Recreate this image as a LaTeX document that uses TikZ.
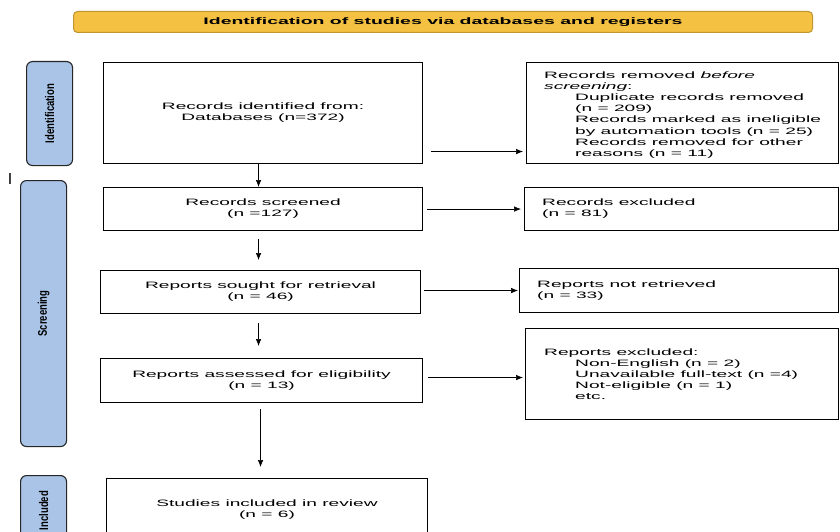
\documentclass[tikz,border=0pt]{standalone}
\usepackage{fontspec}
\setmainfont{Liberation Sans}[FakeStretch=2.07]
\newfontfamily\sidefont{Liberation Sans}[FakeStretch=0.76]
\newfontfamily\plainfont{Liberation Sans}
\usetikzlibrary{arrows.meta}
\definecolor{hdrfill}{HTML}{F4C142}
\definecolor{hdrborder}{HTML}{BF9530}
\definecolor{sidefill}{HTML}{A9C4E6}
\definecolor{sideborder}{HTML}{262626}
\newcommand\mainsz{\fontsize{9.25}{11.1}\selectfont}
\tikzset{
  box/.style={draw=black, line width=1.1pt, inner sep=0pt, anchor=north west, align=center, font=\mainsz},
  sidebox/.style={draw=sideborder, fill=sidefill, line width=1.1pt, rounded corners=6pt, anchor=north west, inner sep=0pt},
  sidelabel/.style={rotate=90, font=\sidefont\bfseries\fontsize{12.5}{14}\selectfont, inner sep=0pt},
  lefttxt/.style={anchor=west, align=left, font=\mainsz, inner sep=0pt},
  arr/.style={-{Latex[length=7pt,width=5.5pt]}, line width=0.6pt, draw=black},
}
\begin{document}
\begin{tikzpicture}[x=1pt,y=-1pt]
\useasboundingbox (0,0) rectangle (840,532);
\clip (0,0) rectangle (840,532);
\fill[white] (0,0) rectangle (840,532);

% header
\node[draw=hdrborder, fill=hdrfill, line width=1pt, rounded corners=4pt, anchor=north west, inner sep=0pt,
      minimum width=739, minimum height=21, font=\bfseries\fontsize{9.4}{11}\selectfont] (header) at (73,11)
  {Identification of studies via databases and registers};

% side boxes
\node[sidebox, minimum width=46, minimum height=104] (sideid) at (26,61) {};
\node[sidelabel] (sideidlbl) at (sideid.center) {Identification};
\node[sidebox, minimum width=46, minimum height=266] (sidescr) at (20,180) {};
\node[sidelabel] (sidescrlbl) at (sidescr.center) {Screening};
\node[sidebox, minimum width=46, minimum height=70] (sideinc) at (20,475) {};
\node[sidelabel] (sideinclbl) at (sideinc.center) {Included};
\node[font=\plainfont\fontsize{16}{16}\selectfont, inner sep=0pt] (cursor) at (10,179) {I};

% main column
\node[box, minimum width=319, minimum height=101] (identified) at (103,62)
  {Records identified from:\\Databases (n=372)};
\node[box, minimum width=319, minimum height=43] (screened) at (103,187)
  {Records screened\\(n =127)};
\node[box, minimum width=320, minimum height=43] (sought) at (100,270)
  {Reports sought for retrieval\\(n = 46)};
\node[box, minimum width=322, minimum height=44] (assessed) at (100,358)
  {Reports assessed for eligibility\\(n = 13)};
\node[box, minimum width=321, minimum height=62] (included) at (106,478)
  {Studies included in review\\(n = 6)};

% right column
\node[box, minimum width=312, minimum height=101] (removed) at (526,62) {};
\node[lefttxt] (removedtxt) at ([xshift=18pt,yshift=-2pt]removed.west)
  {Records removed \textit{before}\\
   \textit{screening}:\\
   \hspace*{31pt}Duplicate records removed\\
   \hspace*{31pt}(n = 209)\\
   \hspace*{31pt}Records marked as ineligible\\
   \hspace*{31pt}by automation tools (n = 25)\\
   \hspace*{31pt}Records removed for other\\
   \hspace*{31pt}reasons (n = 11)};
\node[box, minimum width=314, minimum height=43] (excluded) at (524,187) {};
\node[lefttxt] (excludedtxt) at ([xshift=18pt]excluded.west) {Records excluded\\(n = 81)};
\node[box, minimum width=319, minimum height=44] (notret) at (519,268) {};
\node[lefttxt] (notrettxt) at ([xshift=18pt]notret.west) {Reports not retrieved\\(n = 33)};
\node[box, minimum width=313, minimum height=91] (excl2) at (525,328) {};
\node[lefttxt] (excl2txt) at ([xshift=19pt]excl2.west)
  {Reports excluded:\\
   \hspace*{31pt}Non-English (n = 2)\\
   \hspace*{31pt}Unavailable full-text (n =4)\\
   \hspace*{31pt}Not-eligible (n = 1)\\
   \hspace*{31pt}etc.};

% vertical arrows
\draw[arr] ([xshift=-4.5pt]identified.south) -- ([xshift=-4.5pt]identified.south |- screened.north);
\draw[arr, shorten <=8pt, shorten >=10pt] ([xshift=-4.5pt]screened.south) -- ([xshift=-4.5pt]screened.south |- sought.north);
\draw[arr, shorten <=9pt, shorten >=12pt] ([xshift=-2pt]sought.south) -- ([xshift=-2pt]sought.south |- assessed.north);
\draw[arr, shorten <=6pt, shorten >=11pt] ([xshift=-1pt]assessed.south) -- ([xshift=-1pt]assessed.south |- included.north);

% horizontal arrows
\draw[arr, shorten <=8pt, shorten >=3pt] ([yshift=-38.5pt]identified.east) -- ([yshift=-38.5pt]identified.east -| removed.west);
\draw[arr, shorten <=4pt, shorten >=3pt] (screened.east) -- (screened.east -| excluded.west);
\draw[arr, shorten <=3pt, shorten >=1pt] ([yshift=1.5pt]sought.east) -- ([yshift=1.5pt]sought.east -| notret.west);
\draw[arr, shorten <=5pt, shorten >=2pt] ([yshift=3pt]assessed.east) -- ([yshift=3pt]assessed.east -| excl2.west);
\end{tikzpicture}
\end{document}
